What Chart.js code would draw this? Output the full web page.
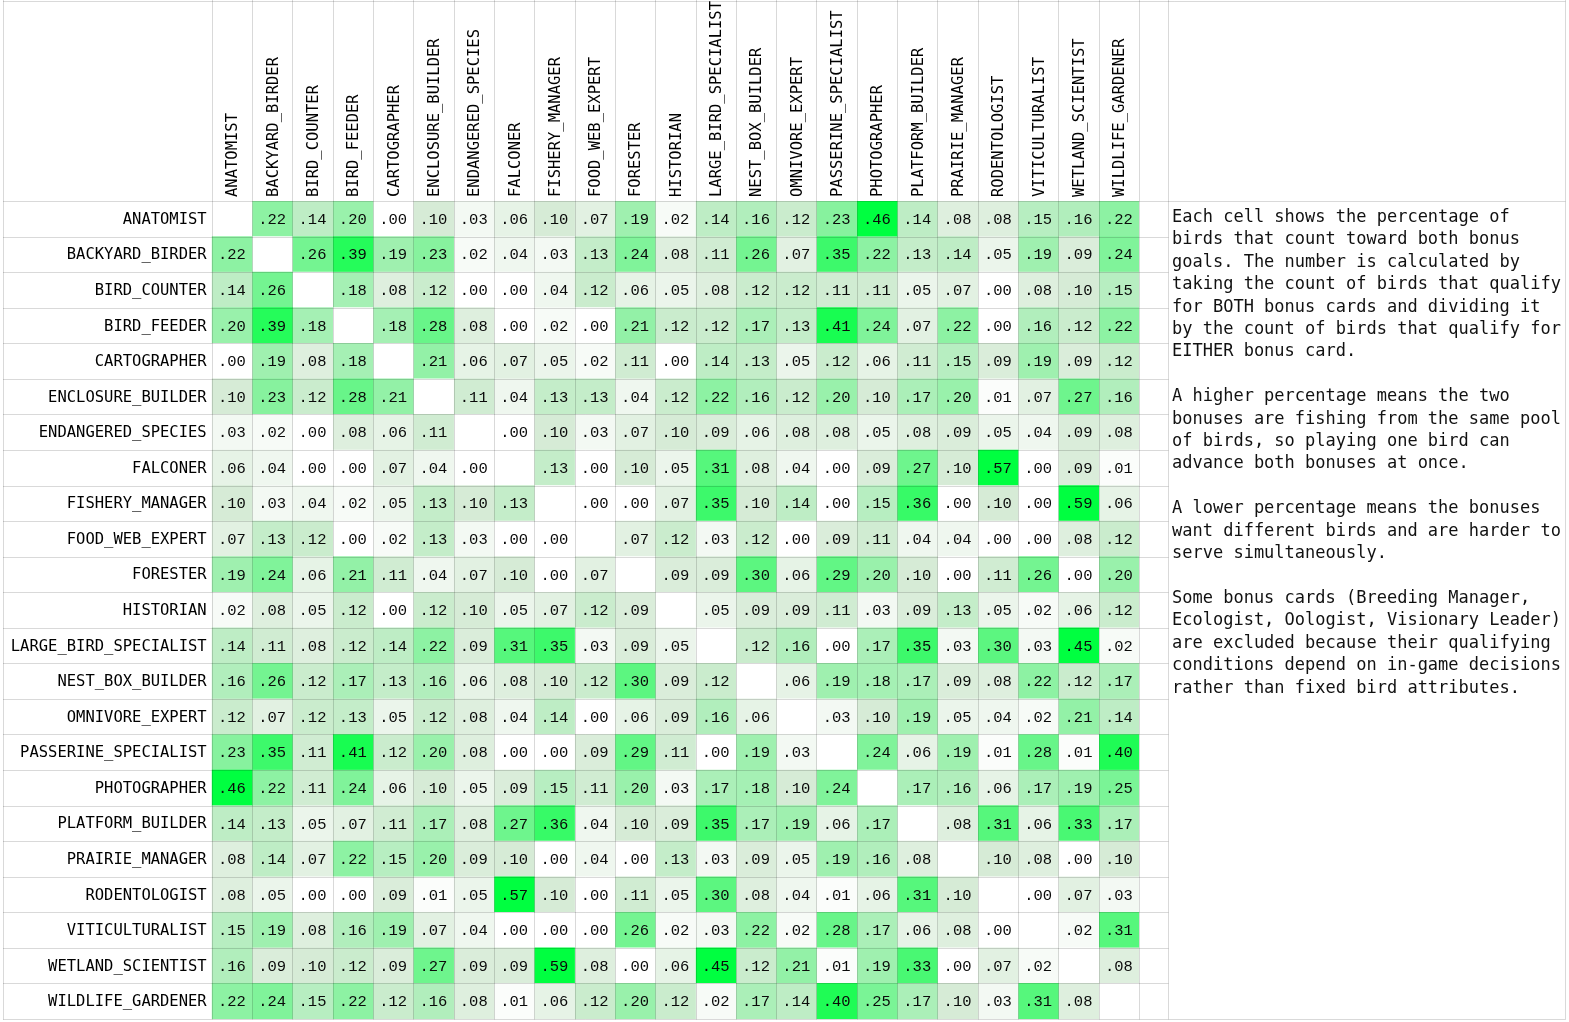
<!DOCTYPE html>
<html>
<head>
    <title>Bonus Card Overlap</title>
    <script src="https://cdn.jsdelivr.net/npm/chart.js"></script>
    <style>
        body {
            margin: 0;
            background-color: #ffffff;
        }
        .sheet {
            position: relative;
            width: 1569px;
            height: 1022px;
        }
        .notes {
            position: absolute;
            left: 1172px;
            top: 205px;
            font-family: "DejaVu Sans Mono", monospace;
            font-size: 17px;
            line-height: 22.4px;
            color: #111111;
            white-space: pre;
        }
    </style>
</head>
<body>
    <div class="sheet">
        <canvas id="overlapChart" width="1569" height="1022"></canvas>
        <div class="notes">Each cell shows the percentage of
birds that count toward both bonus
goals. The number is calculated by
taking the count of birds that qualify
for BOTH bonus cards and dividing it
by the count of birds that qualify for
EITHER bonus card.

A higher percentage means the two
bonuses are fishing from the same pool
of birds, so playing one bird can
advance both bonuses at once.

A lower percentage means the bonuses
want different birds and are harder to
serve simultaneously.

Some bonus cards (Breeding Manager,
Ecologist, Oologist, Visionary Leader)
are excluded because their qualifying
conditions depend on in-game decisions
rather than fixed bird attributes.</div>
    </div>

    <script>
        const bonusCards = [
            'ANATOMIST', 'BACKYARD_BIRDER', 'BIRD_COUNTER', 'BIRD_FEEDER', 'CARTOGRAPHER',
            'ENCLOSURE_BUILDER', 'ENDANGERED_SPECIES', 'FALCONER', 'FISHERY_MANAGER', 'FOOD_WEB_EXPERT',
            'FORESTER', 'HISTORIAN', 'LARGE_BIRD_SPECIALIST', 'NEST_BOX_BUILDER', 'OMNIVORE_EXPERT',
            'PASSERINE_SPECIALIST', 'PHOTOGRAPHER', 'PLATFORM_BUILDER', 'PRAIRIE_MANAGER', 'RODENTOLOGIST',
            'VITICULTURALIST', 'WETLAND_SCIENTIST', 'WILDLIFE_GARDENER'
        ];

        // share of birds qualifying for both cards (rows and columns follow bonusCards)
        const overlap = [
            [null, .22, .14, .20, .00, .10, .03, .06, .10, .07, .19, .02, .14, .16, .12, .23, .46, .14, .08, .08, .15, .16, .22],
            [.22, null, .26, .39, .19, .23, .02, .04, .03, .13, .24, .08, .11, .26, .07, .35, .22, .13, .14, .05, .19, .09, .24],
            [.14, .26, null, .18, .08, .12, .00, .00, .04, .12, .06, .05, .08, .12, .12, .11, .11, .05, .07, .00, .08, .10, .15],
            [.20, .39, .18, null, .18, .28, .08, .00, .02, .00, .21, .12, .12, .17, .13, .41, .24, .07, .22, .00, .16, .12, .22],
            [.00, .19, .08, .18, null, .21, .06, .07, .05, .02, .11, .00, .14, .13, .05, .12, .06, .11, .15, .09, .19, .09, .12],
            [.10, .23, .12, .28, .21, null, .11, .04, .13, .13, .04, .12, .22, .16, .12, .20, .10, .17, .20, .01, .07, .27, .16],
            [.03, .02, .00, .08, .06, .11, null, .00, .10, .03, .07, .10, .09, .06, .08, .08, .05, .08, .09, .05, .04, .09, .08],
            [.06, .04, .00, .00, .07, .04, .00, null, .13, .00, .10, .05, .31, .08, .04, .00, .09, .27, .10, .57, .00, .09, .01],
            [.10, .03, .04, .02, .05, .13, .10, .13, null, .00, .00, .07, .35, .10, .14, .00, .15, .36, .00, .10, .00, .59, .06],
            [.07, .13, .12, .00, .02, .13, .03, .00, .00, null, .07, .12, .03, .12, .00, .09, .11, .04, .04, .00, .00, .08, .12],
            [.19, .24, .06, .21, .11, .04, .07, .10, .00, .07, null, .09, .09, .30, .06, .29, .20, .10, .00, .11, .26, .00, .20],
            [.02, .08, .05, .12, .00, .12, .10, .05, .07, .12, .09, null, .05, .09, .09, .11, .03, .09, .13, .05, .02, .06, .12],
            [.14, .11, .08, .12, .14, .22, .09, .31, .35, .03, .09, .05, null, .12, .16, .00, .17, .35, .03, .30, .03, .45, .02],
            [.16, .26, .12, .17, .13, .16, .06, .08, .10, .12, .30, .09, .12, null, .06, .19, .18, .17, .09, .08, .22, .12, .17],
            [.12, .07, .12, .13, .05, .12, .08, .04, .14, .00, .06, .09, .16, .06, null, .03, .10, .19, .05, .04, .02, .21, .14],
            [.23, .35, .11, .41, .12, .20, .08, .00, .00, .09, .29, .11, .00, .19, .03, null, .24, .06, .19, .01, .28, .01, .40],
            [.46, .22, .11, .24, .06, .10, .05, .09, .15, .11, .20, .03, .17, .18, .10, .24, null, .17, .16, .06, .17, .19, .25],
            [.14, .13, .05, .07, .11, .17, .08, .27, .36, .04, .10, .09, .35, .17, .19, .06, .17, null, .08, .31, .06, .33, .17],
            [.08, .14, .07, .22, .15, .20, .09, .10, .00, .04, .00, .13, .03, .09, .05, .19, .16, .08, null, .10, .08, .00, .10],
            [.08, .05, .00, .00, .09, .01, .05, .57, .10, .00, .11, .05, .30, .08, .04, .01, .06, .31, .10, null, .00, .07, .03],
            [.15, .19, .08, .16, .19, .07, .04, .00, .00, .00, .26, .02, .03, .22, .02, .28, .17, .06, .08, .00, null, .02, .31],
            [.16, .09, .10, .12, .09, .27, .09, .09, .59, .08, .00, .06, .45, .12, .21, .01, .19, .33, .00, .07, .02, null, .08],
            [.22, .24, .15, .22, .12, .16, .08, .01, .06, .12, .20, .12, .02, .17, .14, .40, .25, .17, .10, .03, .31, .08, null]
        ];

        // three point colour scale: white -> grey green -> bright green
        function cellColor(v) {
            if (v === null) return '#ffffff';
            const low = [255, 255, 255], mid = [214, 235, 214], high = [0, 255, 64];
            let a, b, t;
            if (v <= 0.10) { a = low; b = mid; t = v / 0.10; }
            else { a = mid; b = high; t = Math.min(1, (v - 0.10) / 0.35); }
            const c = a.map((k, i) => Math.round(k + (b[i] - k) * t));
            return `rgb(${c[0]}, ${c[1]}, ${c[2]})`;
        }

        const labelFont = { family: '"DejaVu Sans Mono", monospace', size: 15.5 };

        // one floating bar per cell, one dataset per column
        const datasets = bonusCards.map((card, c) => ({
            label: card,
            data: bonusCards.map(() => [c, c + 1]),
            backgroundColor: overlap.map(row => cellColor(row[c])),
            borderWidth: 0,
            barPercentage: 1,
            categoryPercentage: 1,
            grouped: false
        }));

        const sheetPlugin = {
            id: 'sheet',
            afterDatasetsDraw(chart) {
                const { ctx, scales: { x, y } } = chart;
                ctx.save();
                ctx.font = '15.5px "Liberation Mono", monospace';
                ctx.fillStyle = '#0a0a0a';
                ctx.textAlign = 'center';
                ctx.textBaseline = 'middle';
                overlap.forEach((row, i) => row.forEach((v, c) => {
                    if (v === null) return;
                    const text = v.toFixed(2).replace(/^0/, '');
                    ctx.fillText(text, x.getPixelForValue(c + 0.5), y.getPixelForValue(i) + 1);
                }));
                ctx.restore();
            },
            afterDraw(chart) {
                const { ctx, chartArea, scales: { x, y } } = chart;
                const crisp = v => Math.round(v) + 0.5;
                const spareRight = crisp(chartArea.right + 29);
                const notesRight = crisp(chart.width - 4);
                const bottom = crisp(chartArea.bottom);
                const line = (x1, y1, x2, y2) => {
                    ctx.beginPath();
                    ctx.moveTo(x1, y1);
                    ctx.lineTo(x2, y2);
                    ctx.stroke();
                };
                ctx.save();
                ctx.strokeStyle = 'rgba(0, 0, 0, 0.15)';
                ctx.lineWidth = 1;
                for (let c = 0; c <= bonusCards.length; c++) {
                    const px = crisp(x.getPixelForValue(c));
                    line(px, 0, px, bottom);
                }
                for (let i = 0; i <= bonusCards.length; i++) {
                    const py = crisp(y.getPixelForValue(i - 0.5));
                    line(3, py, i === 0 ? notesRight : spareRight, py);
                }
                line(3.5, 0, 3.5, bottom);
                line(3, 1.5, notesRight, 1.5);
                line(spareRight, 0, spareRight, bottom);
                line(notesRight, 0, notesRight, bottom);
                line(spareRight, bottom, notesRight, bottom);
                ctx.restore();
            }
        };

        new Chart(document.getElementById('overlapChart'), {
            type: 'bar',
            data: {
                labels: bonusCards,
                datasets: datasets
            },
            options: {
                indexAxis: 'y',
                responsive: false,
                animation: false,
                layout: {
                    padding: { left: 0, top: 0, right: 430, bottom: 3 }
                },
                plugins: {
                    legend: { display: false },
                    tooltip: { enabled: false }
                },
                scales: {
                    x: {
                        type: 'linear',
                        min: 0,
                        max: bonusCards.length,
                        display: false
                    },
                    x2: {
                        type: 'category',
                        labels: bonusCards,
                        position: 'top',
                        offset: true,
                        min: 0,
                        max: bonusCards.length - 1,
                        grid: { display: false, drawTicks: false },
                        border: { display: false },
                        ticks: {
                            autoSkip: false,
                            minRotation: 90,
                            maxRotation: 90,
                            padding: 4,
                            labelOffset: 20,
                            color: '#000000',
                            font: labelFont
                        },
                        afterFit: scale => {
                            scale.height = 201;
                            scale.paddingLeft = 0;
                            scale.paddingRight = 0;
                        }
                    },
                    y: {
                        type: 'category',
                        offset: true,
                        grid: { display: false, drawTicks: false },
                        border: { display: false },
                        ticks: {
                            autoSkip: false,
                            padding: 5,
                            labelOffset: 1,
                            color: '#000000',
                            font: labelFont
                        },
                        afterFit: scale => {
                            scale.width = 211.7;
                            scale.paddingTop = 0;
                            scale.paddingBottom = 0;
                        }
                    }
                }
            },
            plugins: [sheetPlugin]
        });
    </script>
</body>
</html>
